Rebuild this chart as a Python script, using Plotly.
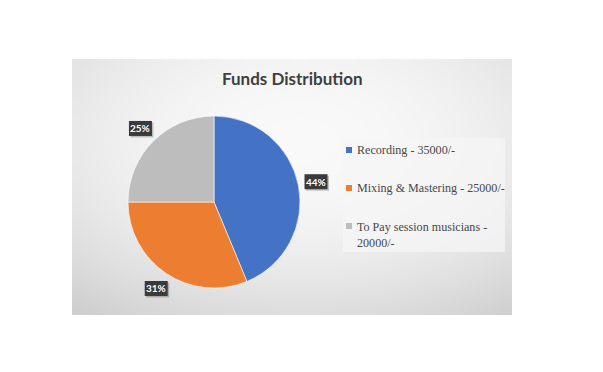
import numpy as np
import plotly.graph_objects as go

# ---- data ----
categories = ["Recording - 35000/-", "Mixing & Mastering - 25000/-", "To Pay session musicians -<br>20000/-"]
values = [35000, 25000, 20000]
colors = ["#4472C4", "#ED7D31", "#BDBDBD"]
title_text = "Funds Distribution"

PW, PH = 603, 372          # page size
OFF = 8                    # default body margin of the page
W, H = PW - 2 * OFF, PH - 2 * OFF
# chart area (page px)
X0, X1, Y0, Y1 = 72, 512, 59, 315
CX, CY, R = 214, 202, 86

def fx(px):
    return (px - OFF) / W

def fy(py):
    return (OFF + H - py) / H

fig = go.Figure()

# background radial gradient (styling only)
nx, ny = 44, 26
gx = X0 + (np.arange(nx) + 0.5) * (X1 - X0) / nx
gy = Y0 + (np.arange(ny) + 0.5) * (Y1 - Y0) / ny
GX, GY = np.meshgrid(gx, gy)
d2 = ((GX - 300) / 220.0) ** 2 + ((GY - 140) / 128.0) ** 2
Z = np.clip(249 - 15.5 * d2, 195, 250)
fig.add_trace(go.Heatmap(x=gx, y=gy, z=Z, zmin=0, zmax=255, zsmooth="best",
                         colorscale=[[0, "rgb(0,0,0)"], [1, "rgb(255,255,255)"]],
                         showscale=False, hoverinfo="skip"))

fig.add_trace(go.Pie(
    labels=categories, values=values, sort=False, direction="clockwise", rotation=0,
    marker=dict(colors=colors, line=dict(color="white", width=0.6)),
    textinfo="none", showlegend=False, hoverinfo="label+percent",
    domain=dict(x=[fx(CX - R), fx(CX + R)], y=[fy(CY + R), fy(CY - R)]),
))

annotations = []
shapes = []

# title
annotations.append(dict(x=(X0 + X1) / 2, y=78, xref="x", yref="y", text=title_text, showarrow=False,
                        font=dict(family="Lato", size=17, color="#3F3F3F", weight="bold")))

# percentage labels outside slices
total = sum(values)
cum = 0
RL = 104
BW, BH = 11.5, 7.5
for v in values:
    mid = (cum + v / 2) / total * 2 * np.pi
    cum += v
    lx = CX + RL * np.sin(mid)
    ly = CY - RL * np.cos(mid)
    pct = f"{round(v / total * 100)}%"
    shapes.append(dict(type="rect", xref="x", yref="y", x0=lx - BW + 1.5, x1=lx + BW + 1.5,
                       y0=ly - BH + 1.5, y1=ly + BH + 1.5, fillcolor="rgba(0,0,0,0.22)",
                       line=dict(width=0), layer="above"))
    shapes.append(dict(type="rect", xref="x", yref="y", x0=lx - BW, x1=lx + BW,
                       y0=ly - BH, y1=ly + BH, fillcolor="#3A3A3A",
                       line=dict(width=0), layer="above"))
    annotations.append(dict(x=lx, y=ly, xref="x", yref="y", text=pct, showarrow=False,
                            font=dict(family="Lato", size=10, color="white", weight="bold")))

# legend box
shapes.append(dict(type="rect", xref="x", yref="y", x0=343, x1=505, y0=138, y1=252,
                   fillcolor="rgba(246,246,246,0.75)", line=dict(width=0), layer="above"))
ly_pos = [150, 188, 226]
for i, (lab, col) in enumerate(zip(categories, colors)):
    yy = ly_pos[i]
    shapes.append(dict(type="rect", xref="x", yref="y", x0=346, x1=352, y0=yy - 3, y1=yy + 3,
                       fillcolor=col, line=dict(width=0), layer="above"))
    annotations.append(dict(x=355, y=yy, xref="x", yref="y", text=lab, showarrow=False,
                            xanchor="left", yanchor="top" if "<br>" in lab else "middle",
                            yshift=8 if "<br>" in lab else 0,
                            align="left",
                            font=dict(family="Liberation Serif", size=12.1, color="#484848")))

fig.update_layout(
    width=W, height=H, margin=dict(l=0, r=0, t=0, b=0),
    paper_bgcolor="white", plot_bgcolor="white",
    xaxis=dict(range=[OFF, OFF + W], visible=False, domain=[0, 1], fixedrange=True),
    yaxis=dict(range=[OFF + H, OFF], visible=False, domain=[0, 1], fixedrange=True),
    showlegend=False, annotations=annotations, shapes=shapes,
)

fig.write_html("out.html")
